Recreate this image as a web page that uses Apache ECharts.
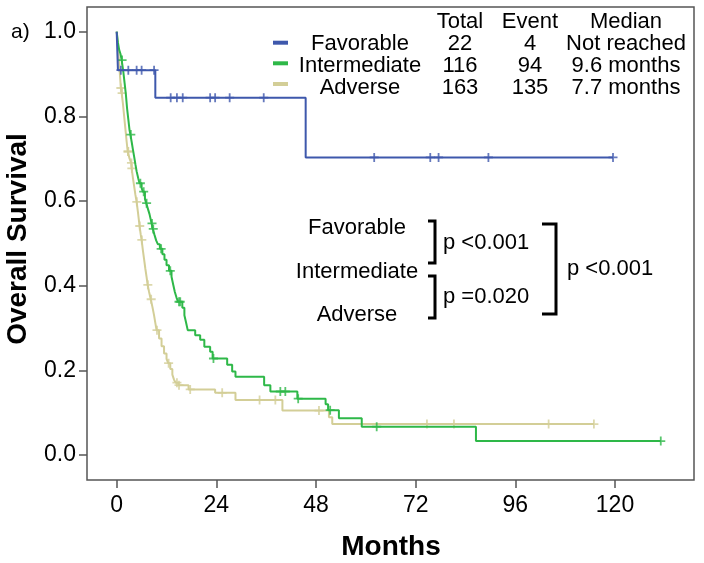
<!DOCTYPE html>
<html><head><meta charset="utf-8">
<script src="https://cdn.jsdelivr.net/npm/echarts@6/dist/echarts.min.js"></script>
<style>html,body{margin:0;padding:0;background:#fff}#c{width:704px;height:563px}</style>
</head><body><div id="c"></div>
<script>
// ---- data ----
const groups = ['Favorable', 'Intermediate', 'Adverse'];
const totals = [22, 116, 163];
const events = [4, 94, 135];
const medians = ['Not reached', '9.6 months', '7.7 months'];
const xTickValues = [0, 24, 48, 72, 96, 120];
const yTickValues = [0, 0.2, 0.4, 0.6, 0.8, 1.0];
const pLabels = ['p <0.001', 'p =0.020', 'p <0.001'];

// Kaplan-Meier steps: [month, survival after event]
const favorableSteps = [[0,1],[0.3,0.909],[9.3,0.844],[45.5,0.703],[119.5,0.703]];
const favorableCensor = [1.0,2.8,4.8,6.0,9.0,13.0,14.5,15.9,22.5,23.7,27.2,35.4,62.0,75.5,77.5,89.5,119.5];

const intermediateSteps = [[0,1],
 [0.3,0.974],[0.6,0.957],[0.9,0.948],[1.2,0.933],
 [1.6,0.905],[1.9,0.879],[2.2,0.853],[2.5,0.819],[2.8,0.793],[3.1,0.767],[3.3,0.757],
 [3.6,0.740],[3.9,0.722],[4.2,0.705],[4.5,0.687],[4.8,0.670],[5.2,0.653],[5.5,0.642],
 [6.0,0.631],[6.3,0.622],[6.8,0.605],[7.1,0.595],
 [7.5,0.582],[7.9,0.569],[8.2,0.556],[8.4,0.547],[8.7,0.534],
 [9.1,0.520],[9.5,0.507],[9.9,0.498],[10.4,0.487],
 [11.0,0.474],[11.5,0.461],[12.0,0.448],[12.6,0.435],
 [13.2,0.421],[13.6,0.403],[14.0,0.385],[14.4,0.372],[14.8,0.362],
 [15.8,0.348],[16.3,0.330],[16.7,0.313],[17.1,0.295],
 [18.9,0.283],[20.1,0.272],[21.1,0.256],[22.5,0.244],[23.1,0.228],
 [26.6,0.213],[27.8,0.197],[28.6,0.185],
 [35.5,0.165],[37.0,0.150],[43.5,0.133],
 [50.3,0.120],[50.9,0.106],[53.5,0.087],[59.0,0.067],
 [86.5,0.033],[131,0.033]];
const intermediateCensor = [1.3,3.4,5.7,6.5,7.2,8.5,8.8,10.7,12.9,15.0,15.3,23.3,39.4,40.6,43.7,51.4,62.6,131];

const adverseSteps = [[0,1],
 [0.2,0.975],[0.4,0.950],[0.6,0.926],[0.8,0.895],[1.0,0.867],[1.2,0.855],
 [1.5,0.830],[1.8,0.800],[2.1,0.770],[2.4,0.740],[2.65,0.717],
 [3.1,0.700],[3.5,0.690],[3.6,0.677],
 [3.9,0.655],[4.2,0.635],[4.5,0.615],[4.8,0.598],
 [5.1,0.575],[5.4,0.550],[5.5,0.541],[5.8,0.520],[6.0,0.508],
 [6.3,0.484],[6.6,0.462],[6.9,0.440],[7.2,0.420],[7.45,0.402],
 [7.8,0.385],[8.2,0.368],[8.6,0.350],[9.0,0.330],[9.3,0.312],[9.6,0.295],
 [10.2,0.275],[10.8,0.257],[11.4,0.240],[12.0,0.227],[12.4,0.217],
 [12.9,0.203],[13.4,0.190],[13.8,0.178],[14.2,0.171],[14.9,0.165],
 [17.3,0.155],[23.7,0.147],[28.6,0.130],[39.9,0.105],
 [51.1,0.089],[51.9,0.073],[114.9,0.073]];
const adverseCensor = [1.0,1.3,2.7,2.8,3.55,3.65,4.85,5.55,6.05,7.5,8.3,9.7,12.5,14.5,15.0,17.7,25.4,34.4,38.2,48.7,74.7,81.2,104,114.9];

const colors = ['#3E58AC', '#2EB848', '#D3CE97'];

function survAt(steps, t) {
  let v = steps[0][1];
  for (const s of steps) { if (s[0] <= t) v = s[1]; else break; }
  return v;
}

const FONT = '"Liberation Sans", Arial, sans-serif';
const plus = 'path://M-1,-5H1V-1H5V1H1V5H-1V1H-5V-1H-1Z';

const stepSets = [favorableSteps, intermediateSteps, adverseSteps];
const censorSets = [favorableCensor, intermediateCensor, adverseCensor];

const series = [];
[2, 1, 0].forEach(i => {
  series.push({
    type: 'line', xAxisIndex: 0, yAxisIndex: 0, step: 'end',
    data: stepSets[i], showSymbol: false, symbol: 'none',
    lineStyle: { color: colors[i], width: 2 }, z: 3 + (2 - i), silent: true
  });
  series.push({
    type: 'scatter', xAxisIndex: 0, yAxisIndex: 0, symbol: plus, symbolSize: [9, 9],
    data: censorSets[i].map(t => [t, survAt(stepSets[i], t)]),
    itemStyle: { color: colors[i] }, z: 3 + (2 - i), silent: true
  });
});

const graphic = [];
graphic.push({ type: 'text', x: 18, y: 239, rotation: Math.PI / 2,
  style: { text: 'Overall Survival', font: 'bold 28px ' + FONT, fill: '#000', textAlign: 'center', textVerticalAlign: 'middle' } });
graphic.push({ type: 'text', x: 391, y: 547,
  style: { text: 'Months', font: 'bold 28px ' + FONT, fill: '#000', textAlign: 'center', textVerticalAlign: 'middle' } });
graphic.push({ type: 'text', x: 11, y: 32,
  style: { text: 'a)', font: '21px ' + FONT, fill: '#000', textAlign: 'left', textVerticalAlign: 'middle' } });

// legend table
const swY = [42.7, 63.3, 84];
const rowY = [44, 66, 88];
const colX = [360, 460, 530, 626];
['Total', 'Event', 'Median'].forEach((h, k) => {
  graphic.push({ type: 'text', x: colX[k + 1], y: 22,
    style: { text: h, font: '22px ' + FONT, fill: '#000', textAlign: 'center', textVerticalAlign: 'middle' } });
});
groups.forEach((g, i) => {
  graphic.push({ type: 'rect', shape: { x: 273, y: swY[i] - 2, width: 15, height: 4 }, style: { fill: colors[i] } });
  [g, String(totals[i]), String(events[i]), medians[i]].forEach((t, k) => {
    graphic.push({ type: 'text', x: colX[k], y: rowY[i],
      style: { text: t, font: '22px ' + FONT, fill: '#000', textAlign: 'center', textVerticalAlign: 'middle' } });
  });
});

// p-value annotation
const annY = [228, 272, 315];
groups.forEach((g, i) => {
  graphic.push({ type: 'text', x: 357, y: annY[i],
    style: { text: g, font: '22px ' + FONT, fill: '#000', textAlign: 'center', textVerticalAlign: 'middle' } });
});
const br = { stroke: '#000', lineWidth: 3, fill: null };
graphic.push({ type: 'polyline', shape: { points: [[428, 221], [435, 221], [435, 263], [428, 263]] }, style: br });
graphic.push({ type: 'polyline', shape: { points: [[428, 276], [435, 276], [435, 318], [428, 318]] }, style: br });
graphic.push({ type: 'polyline', shape: { points: [[542, 224], [556, 224], [556, 314], [542, 314]] }, style: br });
[[443, 243], [443, 297], [567, 269]].forEach((p, i) => {
  graphic.push({ type: 'text', x: p[0], y: p[1],
    style: { text: pLabels[i], font: '22px ' + FONT, fill: '#000', textAlign: 'left', textVerticalAlign: 'middle' } });
});

const hidden = { show: false };
const option = {
  animation: false,
  backgroundColor: '#fff',
  grid: [
    { left: 87, top: 7, width: 607, height: 473, show: true, borderColor: '#555', borderWidth: 1.5, backgroundColor: 'transparent' },
    { left: 116.7, top: 7, width: 498.3, height: 473 },
    { left: 87, top: 31.7, width: 607, height: 423.3 }
  ],
  xAxis: [
    { type: 'value', gridIndex: 0, min: -7.15, max: 139.0, axisLine: hidden, axisTick: hidden, axisLabel: hidden, splitLine: hidden },
    { type: 'value', gridIndex: 1, min: xTickValues[0], max: xTickValues[xTickValues.length - 1], interval: xTickValues[1] - xTickValues[0],
      axisLine: hidden, splitLine: hidden,
      axisTick: { show: true, length: 8, inside: false, lineStyle: { color: '#555', width: 1.5 } },
      axisLabel: { fontSize: 23, fontFamily: FONT, color: '#000', margin: 14 } },
    { type: 'value', gridIndex: 2, min: 0, max: 1, axisLine: hidden, axisTick: hidden, axisLabel: hidden, splitLine: hidden }
  ],
  yAxis: [
    { type: 'value', gridIndex: 0, min: -0.059, max: 1.0583, axisLine: hidden, axisTick: hidden, axisLabel: hidden, splitLine: hidden },
    { type: 'value', gridIndex: 1, min: 0, max: 1, axisLine: hidden, axisTick: hidden, axisLabel: hidden, splitLine: hidden },
    { type: 'value', gridIndex: 2, min: yTickValues[0], max: yTickValues[yTickValues.length - 1], interval: yTickValues[1] - yTickValues[0],
      axisLine: hidden, splitLine: hidden,
      axisTick: { show: true, length: 8, inside: false, lineStyle: { color: '#555', width: 1.5 } },
      axisLabel: { fontSize: 23, fontFamily: FONT, color: '#000', margin: 11, formatter: v => v.toFixed(1) } }
  ],
  series: series,
  graphic: graphic
};
const chart = echarts.init(document.getElementById('c'), null, { renderer: 'canvas' });
chart.setOption(option);
</script>
</body></html>
